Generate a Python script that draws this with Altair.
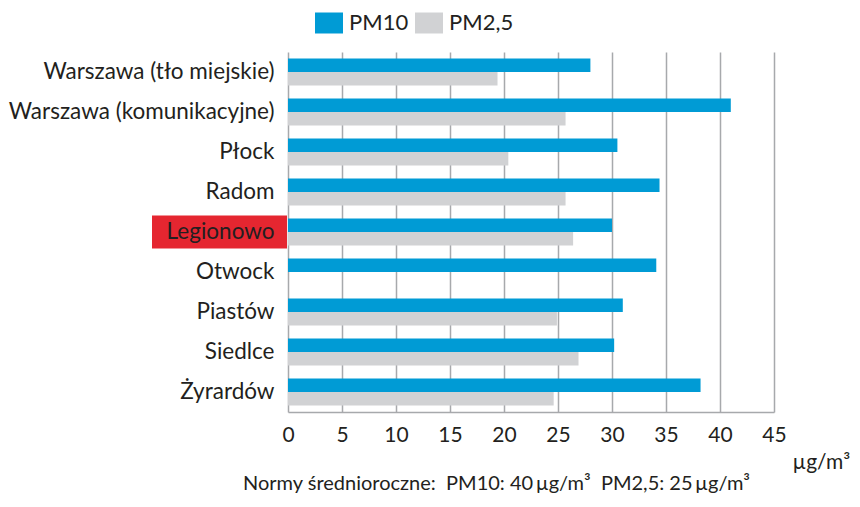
import altair as alt
import pandas as pd

cities = ["Warszawa (tło miejskie)", "Warszawa (komunikacyjne)", "Płock", "Radom",
          "Legionowo", "Otwock", "Piastów", "Siedlce", "Żyrardów"]
pm10 = [28.0, 41.0, 30.5, 34.4, 30.0, 34.1, 31.0, 30.2, 38.2]
pm25 = [19.4, 25.7, 20.4, 25.7, 26.4, None, 24.9, 26.9, 24.6]
series = ["PM10", "PM2,5"]
colors = ["#009bd5", "#d1d2d4"]
x_ticks = [0, 5, 10, 15, 20, 25, 30, 35, 40, 45]
highlight = ["Legionowo"]
unit = "µg/m³"
footer = "Normy średnioroczne:\u00a0\u00a0PM10: 40\u2009µg/m³\u00a0\u00a0PM2,5: 25\u2009µg/m³"

FONT = "Lato"
TXT = "#231f20"

rows = []
for c, a, b in zip(cities, pm10, pm25):
    rows.append({"city": c, "series": "PM10", "value": a})
    if b is not None:
        rows.append({"city": c, "series": "PM2,5", "value": b})
df = pd.DataFrame(rows)
hl = pd.DataFrame({"city": highlight})

yscale = alt.Scale(domain=cities, paddingInner=0.325, paddingOuter=0.1625)

bars = alt.Chart(df).mark_bar(orient="horizontal").encode(
    y=alt.Y("city:N", scale=yscale, sort=cities,
            axis=alt.Axis(title=None, domain=False, ticks=False, grid=False,
                          labelFontSize=22.5, labelColor=TXT, labelFont=FONT,
                          labelPadding=14, labelLimit=400, zindex=1)),
    yOffset=alt.YOffset("series:N", sort=series, scale=alt.Scale(domain=series, paddingInner=0, paddingOuter=0)),
    x=alt.X("value:Q", scale=alt.Scale(domain=[0, 45], nice=False),
            axis=alt.Axis(values=x_ticks, title=unit, grid=True, gridColor="#a7a9ac",
                          gridWidth=1.5, domainColor="#a7a9ac", domainWidth=1.5,
                          ticks=False, labelFontSize=21, labelColor=TXT, labelFont=FONT,
                          labelPadding=12, labelFlush=False,
                          titleFont=FONT, titleFontSize=21, titleLimit=200,
                          titleFontWeight="normal", titleColor=TXT, titleAnchor="start",
                          titleAlign="left", titleX=504, titleY=56,
                          titleBaseline="alphabetic")),
    color=alt.Color("series:N", scale=alt.Scale(domain=series, range=colors),
                    legend=alt.Legend(title=None, orient="none", legendX=27, legendY=-43,
                                      direction="horizontal",
                                      symbolType="M-1,-0.75H1V0.75H-1Z", symbolSize=784,
                                      symbolStrokeWidth=0, symbolOpacity=1,
                                      labelFontSize=22, labelFont=FONT, labelColor=TXT,
                                      labelOffset=6, columnPadding=6, padding=0)),
)

redbox = alt.Chart(hl).mark_bar(orient="horizontal", height=33, color="#e52630").encode(
    y=alt.Y("city:N", scale=yscale, sort=cities),
    x=alt.value(-136),
    x2=alt.value(-1),
)

chart = alt.layer(redbox, bars).properties(
    width=486, height=360,
    padding={"left": 280, "top": 44, "right": 78, "bottom": 94},
    autosize=alt.AutoSizeParams(type="none"),
    title=alt.TitleParams(text=footer, orient="bottom", anchor="start", frame="group",
                          dx=-45, offset=2, font=FONT, fontSize=20,
                          fontWeight="normal", color=TXT),
).configure_view(stroke=None)

chart.save("out.html", embed_options={"renderer": "svg", "actions": False})
